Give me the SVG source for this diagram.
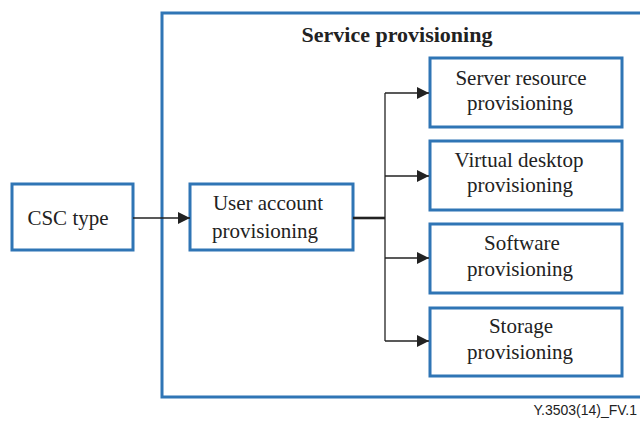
<svg xmlns="http://www.w3.org/2000/svg" width="640" height="421" viewBox="0 0 640 421">
  <style>
    .box { fill: #ffffff; stroke: #2f75b5; stroke-width: 3; }
    .lbl { font-family: 'Liberation Serif', 'DejaVu Serif', serif; font-size: 21px; fill: #222222; text-anchor: middle; }
    .title { font-weight: bold; font-size: 22px; }
    .wire { fill: none; stroke: #222222; stroke-width: 1.3; }
    .trunk { fill: none; stroke: #222222; stroke-width: 2.6; }
    .foot { font-family: 'Liberation Sans', Arial, sans-serif; font-size: 14px; fill: #222222; text-anchor: end; }
  </style>
  <defs>
    <marker id="arrow" viewBox="0 0 12 12" refX="12" refY="6" markerWidth="12" markerHeight="12" markerUnits="userSpaceOnUse" orient="auto">
      <path d="M0,0 L12,6 L0,12 z" fill="#222222"/>
    </marker>
  </defs>

  <g id="service-provisioning">
    <path class="box" d="M645,13 H162 V397 H645"/>
    <text class="lbl title" x="397" y="42" font-family="Liberation Serif, serif">Service provisioning</text>
  </g>

  <g id="csc-type">
    <rect class="box" x="12" y="184" width="121" height="66"/>
    <text class="lbl" x="68" y="225">CSC type</text>
  </g>

  <g id="user-account">
    <rect class="box" x="190" y="184" width="163" height="66"/>
    <text class="lbl" x="268" y="210">User account</text>
    <text class="lbl" x="265" y="238">provisioning</text>
  </g>

  <g id="server-resource">
    <rect class="box" x="430" y="58" width="192" height="69"/>
    <text class="lbl" x="521" y="85">Server resource</text>
    <text class="lbl" x="520" y="110">provisioning</text>
  </g>

  <g id="virtual-desktop">
    <rect class="box" x="430" y="141" width="192" height="69"/>
    <text class="lbl" x="519" y="167">Virtual desktop</text>
    <text class="lbl" x="520" y="192">provisioning</text>
  </g>

  <g id="software">
    <rect class="box" x="430" y="224" width="192" height="69"/>
    <text class="lbl" x="522" y="250">Software</text>
    <text class="lbl" x="520" y="276">provisioning</text>
  </g>

  <g id="storage">
    <rect class="box" x="430" y="308" width="192" height="68"/>
    <text class="lbl" x="521" y="333">Storage</text>
    <text class="lbl" x="520" y="359">provisioning</text>
  </g>

  <g id="connectors">
    <line class="wire" x1="133" y1="218" x2="190" y2="218" marker-end="url(#arrow)"/>
    <line class="trunk" x1="353" y1="218" x2="385" y2="218"/>
    <line class="wire" x1="385" y1="93" x2="385" y2="341"/>
    <line class="wire" x1="385" y1="93" x2="429" y2="93" marker-end="url(#arrow)"/>
    <line class="wire" x1="385" y1="176" x2="429" y2="176" marker-end="url(#arrow)"/>
    <line class="wire" x1="385" y1="258" x2="429" y2="258" marker-end="url(#arrow)"/>
    <line class="wire" x1="385" y1="341" x2="429" y2="341" marker-end="url(#arrow)"/>
  </g>

  <text class="foot" x="637" y="415">Y.3503(14)_FV.1</text>
</svg>
